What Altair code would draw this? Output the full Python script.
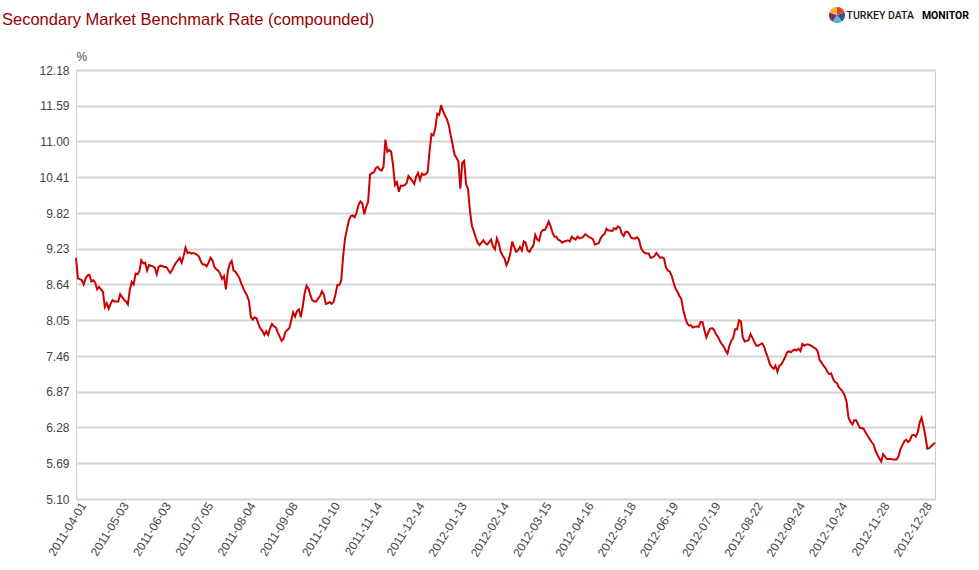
import altair as alt
import pandas as pd

# ---- data (one value per trading day) ----
rate_2011 = [
    9.08, 8.74, 8.73, 8.71, 8.64, 8.74, 8.79, 8.80, 8.69, 8.71,
    8.67, 8.56, 8.60, 8.56, 8.52, 8.27, 8.33, 8.24, 8.32, 8.38,
    8.36, 8.36, 8.36, 8.48, 8.43, 8.39, 8.36, 8.31, 8.55, 8.68,
    8.64, 8.82, 8.81, 8.86, 9.04, 8.99, 9.00, 8.87, 8.96, 8.95,
    8.94, 8.92, 8.81, 8.93, 8.95, 8.94, 8.93, 8.93, 8.88, 8.83,
    8.88, 8.94, 9.00, 9.04, 9.08, 9.00, 9.11, 9.25, 9.16, 9.17,
    9.15, 9.16, 9.15, 9.13,
    9.10, 9.02, 8.97, 8.97, 8.94, 9.00, 9.08, 9.04, 8.93, 8.89,
    8.87, 8.82, 8.73, 8.78, 8.56, 8.86, 8.98, 9.03, 8.87, 8.85,
    8.80, 8.75, 8.66, 8.58, 8.51, 8.46, 8.37, 8.10, 8.06, 8.10,
    8.08, 7.98, 7.91, 7.87, 7.81, 7.87, 7.81, 7.92, 7.99, 7.95,
    7.93, 7.85, 7.78, 7.71, 7.75, 7.86, 7.89, 7.92, 8.05, 8.18,
    8.11, 8.20, 8.23, 8.10, 8.28, 8.50, 8.62, 8.57, 8.46, 8.38,
    8.36, 8.36, 8.41,
    8.45, 8.53, 8.47, 8.32, 8.33, 8.35, 8.32, 8.35, 8.47, 8.63,
    8.63, 8.70, 9.10, 9.40, 9.55, 9.70, 9.77, 9.78, 9.75, 9.82,
    9.95, 10.01, 9.98, 9.80, 9.92, 10.00, 10.45, 10.48, 10.49, 10.56,
    10.58, 10.54, 10.52, 10.58, 11.03, 10.83, 10.86, 10.83, 10.60, 10.28,
    10.33, 10.17, 10.27, 10.27, 10.28, 10.31, 10.43, 10.39, 10.35, 10.30,
    10.42, 10.48, 10.37, 10.47, 10.45, 10.46, 10.50, 10.85, 11.12, 11.10,
    11.22,
]

rate_2012 = [
    11.46, 11.44,
    11.60, 11.50, 11.43, 11.37, 11.27, 11.10, 10.95, 10.78, 10.73, 10.67,
    10.22, 10.65, 10.68, 10.29, 10.22, 9.86, 9.61, 9.52, 9.42, 9.33,
    9.29, 9.33, 9.37, 9.32, 9.30, 9.34, 9.38, 9.27, 9.22, 9.40,
    9.32, 9.18, 9.12, 9.07, 8.96, 9.03, 9.15, 9.35, 9.26, 9.18,
    9.20, 9.26, 9.20, 9.35, 9.33, 9.20, 9.18, 9.24, 9.28, 9.46,
    9.38, 9.36, 9.50, 9.54, 9.54, 9.60, 9.68, 9.60, 9.49, 9.43,
    9.43, 9.38,
    9.36, 9.33, 9.35, 9.36, 9.37, 9.35, 9.43, 9.40, 9.38, 9.43,
    9.40, 9.41, 9.43, 9.47, 9.45, 9.42, 9.41, 9.39, 9.30, 9.31,
    9.32, 9.40, 9.45, 9.47, 9.56, 9.53, 9.53, 9.52, 9.57, 9.55,
    9.60, 9.58, 9.48, 9.44, 9.51, 9.51, 9.47, 9.41, 9.40, 9.40,
    9.42, 9.38, 9.24, 9.19, 9.16, 9.15, 9.15, 9.08, 9.09, 9.11,
    9.16, 9.12, 9.08, 9.09, 9.07, 8.92, 8.87, 8.85, 8.78, 8.67,
    8.57, 8.52, 8.45,
    8.40, 8.22, 8.10, 8.00, 7.96, 7.97, 7.93, 7.94, 7.95, 7.94,
    8.02, 8.02, 7.89, 7.77, 7.85, 7.91, 7.92, 7.89, 7.82, 7.78,
    7.71, 7.66, 7.62, 7.55, 7.50, 7.63, 7.71, 7.76, 7.90, 7.90,
    8.05, 8.03, 7.76, 7.70, 7.71, 7.72, 7.82, 7.76, 7.69, 7.63,
    7.63, 7.65, 7.67, 7.62, 7.52, 7.44, 7.33, 7.28, 7.25, 7.30,
    7.20, 7.30, 7.32, 7.38, 7.44, 7.52, 7.54, 7.52, 7.55, 7.57,
    7.55, 7.58,
    7.54, 7.66, 7.63, 7.65, 7.65, 7.64, 7.62, 7.60, 7.58, 7.53,
    7.39, 7.35, 7.30, 7.26, 7.20, 7.16, 7.17, 7.08, 7.03, 7.01,
    6.94, 6.91, 6.87, 6.81, 6.70, 6.44, 6.38, 6.33, 6.40, 6.40,
    6.33, 6.27, 6.27, 6.25, 6.19, 6.14, 6.09, 6.04, 6.00, 5.90,
    5.83, 5.77, 5.72, 5.84, 5.80, 5.76, 5.76, 5.76, 5.75, 5.75,
    5.75, 5.80, 5.92, 5.99, 6.05, 6.08, 6.04, 6.07, 6.15, 6.16,
    6.13, 6.20, 6.36, 6.44, 6.30, 6.14, 5.93, 5.94, 5.97, 6.00,
    6.03,
]

tick_labels = [
    "2011-04-01", "2011-05-03", "2011-06-03", "2011-07-05", "2011-08-04",
    "2011-09-08", "2011-10-10", "2011-11-14", "2011-12-14", "2012-01-13",
    "2012-02-14", "2012-03-15", "2012-04-16", "2012-05-18", "2012-06-19",
    "2012-07-19", "2012-08-22", "2012-09-24", "2012-10-24", "2012-11-28",
    "2012-12-28",
]
label_step = 22  # trading days between labelled dates

y_ticks = [5.10, 5.69, 6.28, 6.87, 7.46, 8.05, 8.64, 9.23, 9.82, 10.41, 11.00, 11.59, 12.18]

title_text = "Secondary Market Benchmark Rate (compounded)"
brand_light = "TURKEY DATA"
brand_bold = "MONITOR"
logo_slices = [1, 1, 1, 1, 1]
logo_colors = ["#e2402a", "#3b4ea0", "#5cb3c8", "#7a2b6c", "#f0b631"]

# ---- build ----
rate = rate_2011 + rate_2012
df = pd.DataFrame({"i": list(range(len(rate))), "rate": rate})

label_expr = "[" + ",".join("'" + d + "'" for d in tick_labels) + "][round(datum.value / %d)]" % label_step

FONT = "Liberation Sans"
NARROW = "Liberation Sans Narrow, Roboto, Liberation Sans"
TXT = "#444444"

line = alt.Chart(df).mark_line(color="#cc0000", strokeWidth=2).encode(
    x=alt.X(
        "i:Q",
        scale=alt.Scale(domain=[0, len(rate) - 1], nice=False, zero=False),
        axis=alt.Axis(
            values=[k * label_step for k in range(len(tick_labels))],
            labelExpr=label_expr,
            labelAngle=-58,
            labelAlign="right",
            labelBaseline="middle",
            labelOverlap=False,
            labelFlush=False,
            labelPadding=4,
            labelOffset=7,
            labelFontSize=12,
            labelColor=TXT,
            labelFont=FONT,
            grid=False,
            ticks=False,
            domain=False,
            title=None,
        ),
    ),
    y=alt.Y(
        "rate:Q",
        scale=alt.Scale(domain=[5.10, 12.18], nice=False, zero=False),
        axis=alt.Axis(
            values=y_ticks,
            format=".2f",
            grid=True,
            gridColor="#d4d4d4",
            gridWidth=2,
            ticks=False,
            domain=False,
            labelPadding=7,
            labelFontSize=12,
            labelColor=TXT,
            labelFont=FONT,
            title="%",
            titleAngle=0,
            titleX=0,
            titleY=-7,
            titleAlign="left",
            titleBaseline="bottom",
            titleFontWeight="normal",
            titleFontSize=12,
            titleColor=TXT,
            titleFont=FONT,
        ),
    ),
)

title = alt.Chart(pd.DataFrame({"t": [title_text]})).mark_text(
    align="left", baseline="alphabetic", fontSize=16.5, font=FONT, color="#990000"
).encode(x=alt.value(-74), y=alt.value(-45), text="t:N")

brand1 = alt.Chart(pd.DataFrame({"t": [brand_light]})).mark_text(
    align="right", baseline="alphabetic", fontSize=10.5, font=NARROW, fontWeight=500, color="#1a1a1a"
).encode(x=alt.value(838), y=alt.value(-51), text="t:N")

brand2 = alt.Chart(pd.DataFrame({"t": [brand_bold]})).mark_text(
    align="right", baseline="alphabetic", fontSize=10.5, font=NARROW, fontWeight="bold", color="#000000"
).encode(x=alt.value(893), y=alt.value(-51), text="t:N")

logo = alt.Chart(pd.DataFrame({"v": logo_slices, "c": logo_colors, "o": list(range(len(logo_slices)))})).mark_arc(
    radius=8
).encode(
    theta=alt.Theta("v:Q", stack=True),
    color=alt.Color("c:N", scale=None),
    order=alt.Order("o:Q"),
    x=alt.value(761),
    y=alt.value(-55),
)

chart = alt.layer(line, title, brand1, brand2, logo).properties(
    width=859,
    height=429,
    autosize=alt.AutoSizeParams(type="none"),
    padding={"left": 76, "top": 70, "right": 44, "bottom": 71},
    background="white",
).configure_view(stroke="#cccccc", strokeWidth=1)

chart.save("out.html", embed_options={"renderer": "svg", "actions": False})
